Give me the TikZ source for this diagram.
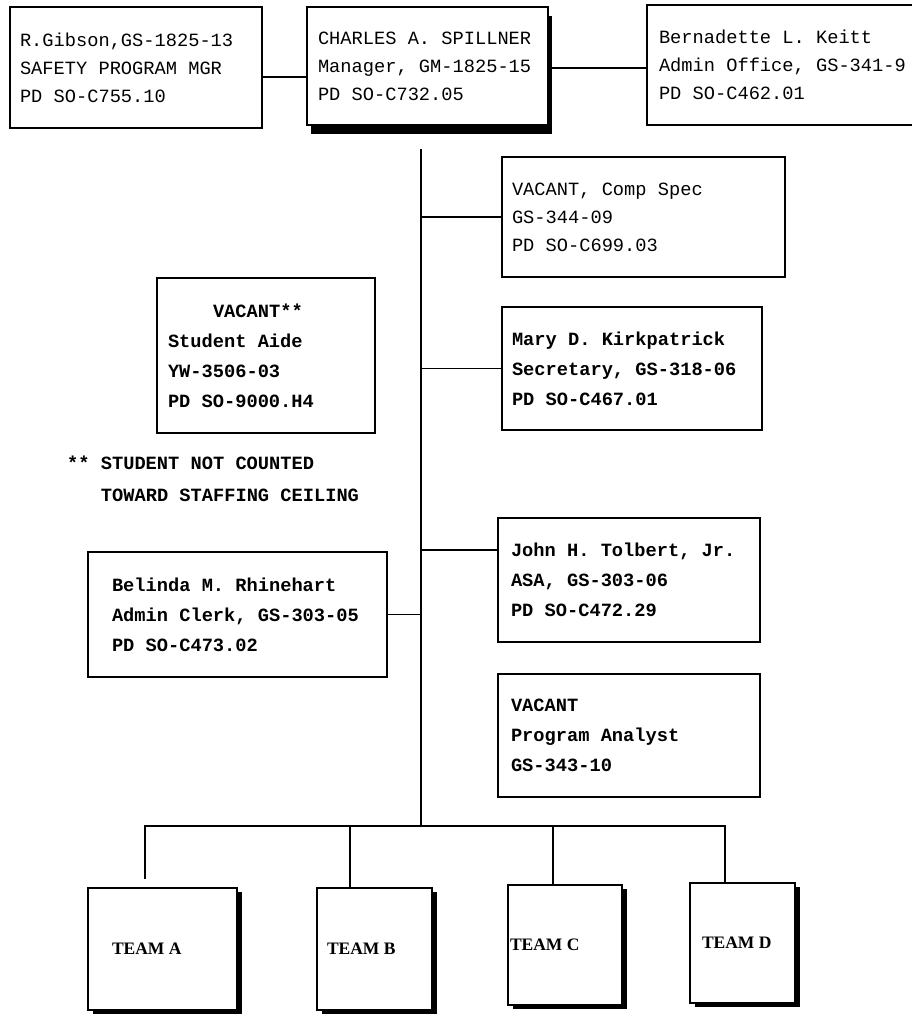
\documentclass[tikz,border=0pt]{standalone}
\usepackage{fontspec}
\setmainfont{Liberation Serif}
\setmonofont{Liberation Mono}
\usetikzlibrary{positioning, shadows}
\protected\def\fixedspace{\frenchspacing\spaceskip=11.22pt\xspaceskip=11.22pt\relax}

\begin{document}
\begin{tikzpicture}[x=1pt, y=-1pt,
		node/.style={draw, rectangle, fill=white, line width=2pt, align=flush left, inner xsep=11pt, inner ysep=0pt, font=\ttfamily\fontsize{18.7}{28}\selectfont\fixedspace},
		heavy/.style={font=\ttfamily\bfseries\fontsize{18.7}{30}\selectfont\fixedspace},
		team/.style={node, minimum height=122pt, font=\rmfamily\bfseries\fontsize{17.5}{20}\selectfont, drop shadow={shadow xshift=5pt, shadow yshift=-4pt, fill=black, opacity=1}},
		link/.style={line width=1.8pt}]
	\useasboundingbox (0,0) rectangle (912,1015);

	\node[node, minimum height=118pt, text width=219pt, drop shadow={shadow xshift=4pt, shadow yshift=-9pt, fill=black, opacity=1}] (0) at (427.5,66) {CHARLES A. SPILLNER\\ Manager, GM-1825-15\\ PD SO-C732.05};
	\node[node, minimum height=121pt, inner xsep=10pt, text width=232pt] (1) at (136,67.5) {R.Gibson,GS-1825-13\\ SAFETY PROGRAM MGR\\ PD SO-C755.10};
	\node[node, minimum height=120pt, inner xsep=12pt, text width=254pt] (2) at (786,65) {Bernadette L. Keitt\\ Admin Office, GS-341-9\\ PD SO-C462.01};
	\node[node, minimum height=120pt, inner xsep=10pt, text width=263pt] (3) at (643.5,217) {VACANT, Comp Spec\\ GS-344-09\\ PD SO-C699.03};
	\node[node, heavy, minimum height=123pt, inner xsep=10pt, text width=240pt] (4) at (632,368.5) {Mary D. Kirkpatrick\\ Secretary, GS-318-06\\ PD SO-C467.01};
	\node[node, heavy, minimum height=124pt, inner xsep=13pt, text width=236pt] (5) at (629,580) {John H. Tolbert, Jr.\\ ASA, GS-303-06\\ PD SO-C472.29};
	\node[node, heavy, minimum height=123pt, inner xsep=13pt, text width=236pt, below=30pt of 5] (6) {VACANT\\ Program Analyst\\ GS-343-10};
	\node[node, heavy, minimum height=155pt, inner xsep=11pt, text width=196pt] (7) at (266,355.5) {\hspace*{45pt}VACANT**\\ Student Aide\\ YW-3506-03\\ PD SO-9000.H4};
	\node[node, heavy, minimum height=125pt, inner xsep=24pt, text width=251pt] (8) at (237.5,614.5) {Belinda M. Rhinehart\\ Admin Clerk, GS-303-05\\ PD SO-C473.02};
	\node[align=flush left, anchor=west, inner sep=0pt, font=\ttfamily\bfseries\fontsize{18.7}{32}\selectfont\fixedspace] (9) at (67,479) {** STUDENT NOT COUNTED\\ \hspace*{33.7pt}TOWARD STAFFING CEILING};

	\node[team, inner xsep=24pt, text width=101pt] (A) at (162.5,949) {TEAM A};
	\node[team, inner xsep=10pt, text width=95pt] (B) at (374.5,948.5) {TEAM B};
	\node[team, minimum height=120pt, inner xsep=2pt, text width=110pt] (C) at (565,945) {TEAM C};
	\node[team, minimum height=120pt, inner xsep=12pt, text width=81pt] (D) at (742.5,943) {TEAM D};

	\coordinate (top) at (421,149);
	\coordinate (bar) at (421,826);

	\draw[link] (top) -- (bar);
	\draw[link] ([yshift=-9.5pt]1.east) -- ([yshift=-9.5pt]1.east -| 0.west);
	\draw[link] ([yshift=-2pt]0.east) -- ([yshift=-2pt]0.east -| 2.west);
	\draw[link] (3.west) -- (3.west -| top);
	\draw[link] (4.west) -- (4.west -| top);
	\draw[link] ([yshift=30pt]5.west) -- ([yshift=30pt]5.west -| top);
	\draw[link] (8.east) -- (8.east -| top);
	\draw[link] (bar) -| ([xshift=-17.5pt, yshift=8pt]A.north);
	\draw[link] (bar) -| ([xshift=-24.5pt]B.north);
	\draw[link] (bar) -| ([xshift=-12pt]C.north);
	\draw[link] (bar) -| ([xshift=-17.5pt]D.north);
\end{tikzpicture}
\end{document}
